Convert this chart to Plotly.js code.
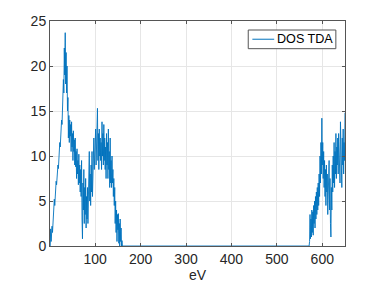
<!DOCTYPE html>
<html>
<head>
<meta charset="utf-8">
<script src="https://cdn.plot.ly/plotly-3.0.1.min.js"></script>
<style>html,body{margin:0;padding:0;background:#fff;}#chart{width:382px;height:286px;}</style>
</head>
<body>
<div id="chart"></div>
<script>
// Energy grid (eV) for the two bands: start and step of the sampling
const band1Start = 1;
const band2Start = 570;
const gridStep = 1;

// DOS values, band 1 (low energy)
const band1Values = [
  0, 1.9, 0.5, 1.8, 2.2,
  1.5, 3, 2.8, 4, 5.2,
  4.5, 6, 5.5, 7.2, 6.8,
  8, 7.5, 9, 8.6, 10,
  9.8, 11.5, 11, 12.5, 12,
  14, 13.5, 16, 15.5, 18.5,
  17, 22, 19, 23.7, 18,
  21.5, 17, 20, 15, 16.5,
  12, 14.5, 11.5, 14, 12.2,
  13.5, 10.5, 13.8, 11, 12.5,
  9.5, 12.8, 10.5, 11.8, 9,
  12, 8.8, 10.5, 7.5, 10.8,
  8, 9.5, 6.8, 10.2, 7,
  9, 6, 8.5, 5.5, 9.5,
  3, 0.8, 7, 4, 8.5,
  2.5, 6.5, 3.5, 7.5, 2,
  5.5, 3, 6.5, 2.5, 7,
  4, 10.5, 5, 8, 4.5,
  9, 6, 10.5, 5.5, 9.8,
  7.5, 12, 8.5, 11, 9.5,
  13, 9, 11.5, 10, 15.3,
  9.5, 12.5, 8.5, 13, 10,
  12, 9.5, 11.5, 8.5, 13.8,
  10, 12.5, 9, 13.5, 9.5,
  12, 8.5, 11, 7.5, 12.5,
  9, 11.5, 7.5, 13, 8.5,
  10.5, 6.5, 12, 7, 9.5,
  6.5, 10, 7, 8.5, 5.5,
  7.5, 4.5, 6.5, 2.5, 5,
  1.5, 4, 0.5, 3.5, 1.8,
  3.6, 0.3, 2.5, 0, 3,
  0.5, 2, 0, 0.6, 0
];

// DOS values, band 2 (high energy)
const band2Values = [
  0, 0, 0.5, 3.5, 0.8,
  3, 1, 4, 1.5, 3.8,
  1.2, 4.5, 2.5, 5, 2,
  5.5, 3, 6, 3.5, 6.5,
  4, 7, 4.5, 8, 5.5,
  10, 7, 11.5, 8, 14.2,
  9, 11.5, 7.5, 10.5, 6.5,
  9.5, 5.5, 8.5, 4.5, 9,
  6, 8, 3.5, 7, 5,
  9.5, 4, 7.5, 2.5, 1,
  6.5, 4, 9, 6, 10,
  7, 11.5, 6.5, 10.5, 8,
  12.5, 7.5, 11, 9, 12,
  8, 12.5, 9.5, 11, 7,
  13.8, 8.5, 11.5, 6.5, 12,
  9, 13, 8, 11.5, 9.5,
  14.8
];

const seriesName = 'DOS TDA';
const xTickValues = [100, 200, 300, 400, 500, 600];
const yTickValues = [0, 5, 10, 15, 20, 25];
const xLabel = 'eV';

const xs = [], ys = [];
band1Values.forEach((v, i) => { xs.push(band1Start + i * gridStep); ys.push(v); });
band2Values.forEach((v, i) => { xs.push(band2Start + i * gridStep); ys.push(v); });

const lineColor = '#0072BD';
const fontFamily = 'Liberation Sans, Arial, Helvetica, sans-serif';
const font = {family: fontFamily, size: 14, color: '#262626'};
const legendFont = {family: fontFamily, size: 12.6, color: '#000'};

const trace = {
  x: xs, y: ys, type: 'scatter', mode: 'lines', name: seriesName,
  line: {color: lineColor, width: 0.9}, showlegend: false
};

const axisCommon = {
  showline: true, linecolor: '#555', linewidth: 1, mirror: 'ticks',
  ticks: 'inside', ticklen: 3, tickcolor: '#555',
  showgrid: true, gridcolor: '#e6e6e6', gridwidth: 1,
  zeroline: false, tickfont: font
};

const layout = {
  width: 382, height: 286,
  margin: {l: 50, r: 37, t: 21, b: 40},
  paper_bgcolor: '#fff', plot_bgcolor: '#fff',
  font: font,
  showlegend: false,
  xaxis: Object.assign({}, axisCommon, {
    range: [0.5, 650], tickvals: xTickValues,
    title: {text: xLabel, font: font, standoff: 2}
  }),
  yaxis: Object.assign({}, axisCommon, {
    range: [0, 25], tickvals: yTickValues
  }),
  // legend box drawn in paper coordinates
  shapes: [
    {type: 'rect', xref: 'paper', yref: 'paper', x0: 0.672, x1: 0.969, y0: 0.877, y1: 0.96,
     line: {color: '#555', width: 1}, fillcolor: '#fff', layer: 'above'},
    {type: 'line', xref: 'paper', yref: 'paper', x0: 0.686, x1: 0.760, y0: 0.919, y1: 0.919,
     line: {color: lineColor, width: 1}, layer: 'above'}
  ],
  annotations: [
    {text: seriesName, xref: 'paper', yref: 'paper', x: 0.762, y: 0.919,
     xanchor: 'left', yanchor: 'middle', showarrow: false, font: legendFont}
  ]
};

Plotly.newPlot('chart', [trace], layout, {displayModeBar: false, staticPlot: true});
</script>
</body>
</html>
